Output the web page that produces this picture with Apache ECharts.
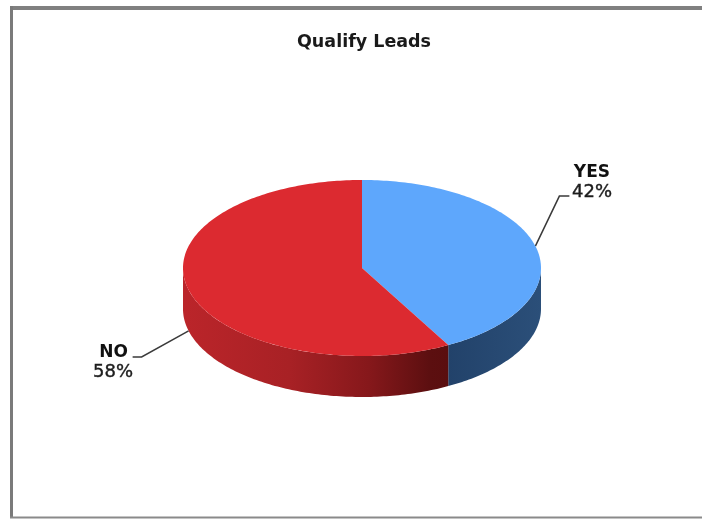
<!DOCTYPE html>
<html>
<head>
<meta charset="utf-8">
<style>html,body{margin:0;padding:0;background:#fff}#c{width:702px;height:519px}</style>
<script src="https://cdn.jsdelivr.net/npm/echarts@6/dist/echarts.min.js"></script>
</head>
<body>
<div id="c"></div>
<script>
const chartTitle = 'Qualify Leads';
const categories = ['YES', 'NO'];
const values = [42, 58];
const percentLabels = ['42%', '58%'];
const topColors = ['#5EA7FC', '#DC2A30'];
const sideStops = [
  [[0, '#22426A'], [1, '#2B4F79']],
  [[0, '#BB252A'], [0.4, '#A82125'], [0.7, '#86181B'], [0.93, '#5C0F10'], [1, '#5A0E0F']]
];
const leaderElbows = [[24, -50], [-47, 26]];
const leaderEnds = [[10, 0], [-9, 0]];
const nameAnchors = [[610, 173], [128, 353]];
const percentAnchors = [[612, 192], [133, 372]];

const cx = 362, cy = 268, rx = 179, ry = 88, depth = 41;
const total = values.reduce((a, b) => a + b, 0);
const pt = (deg, dy) => {
  const r = deg * Math.PI / 180;
  return [cx + rx * Math.sin(r), cy - ry * Math.cos(r) + (dy || 0)];
};
const arc = (a, b, dy) => {
  const out = [];
  const n = Math.max(2, Math.ceil(Math.abs(b - a)));
  for (let i = 0; i <= n; i++) out.push(pt(a + (b - a) * i / n, dy));
  return out;
};
const startOf = i => values.slice(0, i).reduce((s, v) => s + v, 0) / total * 360;

function renderItem(params, api) {
  const i = params.dataIndex;
  const a = startOf(i), b = a + api.value(0) / total * 360, mid = (a + b) / 2;
  const children = [];
  const sa = Math.max(a, 90), sb = Math.min(b, 270);
  const midFront = Math.cos(mid * Math.PI / 180) < 0;
  const anchor = pt(mid, midFront ? depth : 0);
  const elbow = [anchor[0] + leaderElbows[i][0], anchor[1] + leaderElbows[i][1]];
  const end = [elbow[0] + leaderEnds[i][0], elbow[1] + leaderEnds[i][1]];
  children.push({
    type: 'polyline', shape: { points: [anchor, elbow, end] },
    style: { stroke: '#3a3a3a', lineWidth: 1.5, fill: null }
  });
  if (sb > sa) {
    children.push({
      type: 'polygon',
      shape: { points: arc(sa, sb, 0).concat(arc(sb, sa, depth)) },
      style: {
        fill: new echarts.graphic.LinearGradient(0, 0, 1, 0,
          sideStops[i].map(s => ({ offset: s[0], color: s[1] })))
      }
    });
  }
  children.push({
    type: 'polygon',
    shape: { points: [[cx, cy]].concat(arc(a, b, 0)) },
    style: { fill: topColors[i] }
  });
  children.push({
    type: 'text',
    style: {
      x: nameAnchors[i][0], y: nameAnchors[i][1],
      text: categories[i], align: 'right', verticalAlign: 'middle',
      fill: '#111', font: 'bold 17px "DejaVu Sans"'
    }
  });
  children.push({
    type: 'text',
    style: {
      x: percentAnchors[i][0], y: percentAnchors[i][1],
      text: percentLabels[i], align: 'right', verticalAlign: 'middle',
      fill: '#1c1c1c', stroke: '#1c1c1c', lineWidth: 0.4, font: '18px "DejaVu Sans"'
    }
  });
  return { type: 'group', children };
}

const chart = echarts.init(document.getElementById('c'), null, { renderer: 'canvas' });
chart.setOption({
  animation: false,
  backgroundColor: '#fff',
  title: {
    text: chartTitle, left: 359, top: 28, textAlign: 'center',
    textStyle: { fontFamily: 'DejaVu Sans', fontWeight: 'bold', fontSize: 17.5, color: '#1a1a1a' }
  },
  graphic: [
    { type: 'line', silent: true, shape: { x1: 10, y1: 8, x2: 702, y2: 8 },
      style: { stroke: '#808080', lineWidth: 4 } },
    { type: 'line', silent: true, shape: { x1: 11.5, y1: 6, x2: 11.5, y2: 518 },
      style: { stroke: '#7a7a7a', lineWidth: 3 } },
    { type: 'line', silent: true, shape: { x1: 10, y1: 517.5, x2: 702, y2: 517.5 },
      style: { stroke: '#8a8a8a', lineWidth: 2 } }
  ],
  series: [{
    type: 'custom', coordinateSystem: 'none',
    data: values.map(v => [v]),
    renderItem
  }]
});
</script>
</body>
</html>
